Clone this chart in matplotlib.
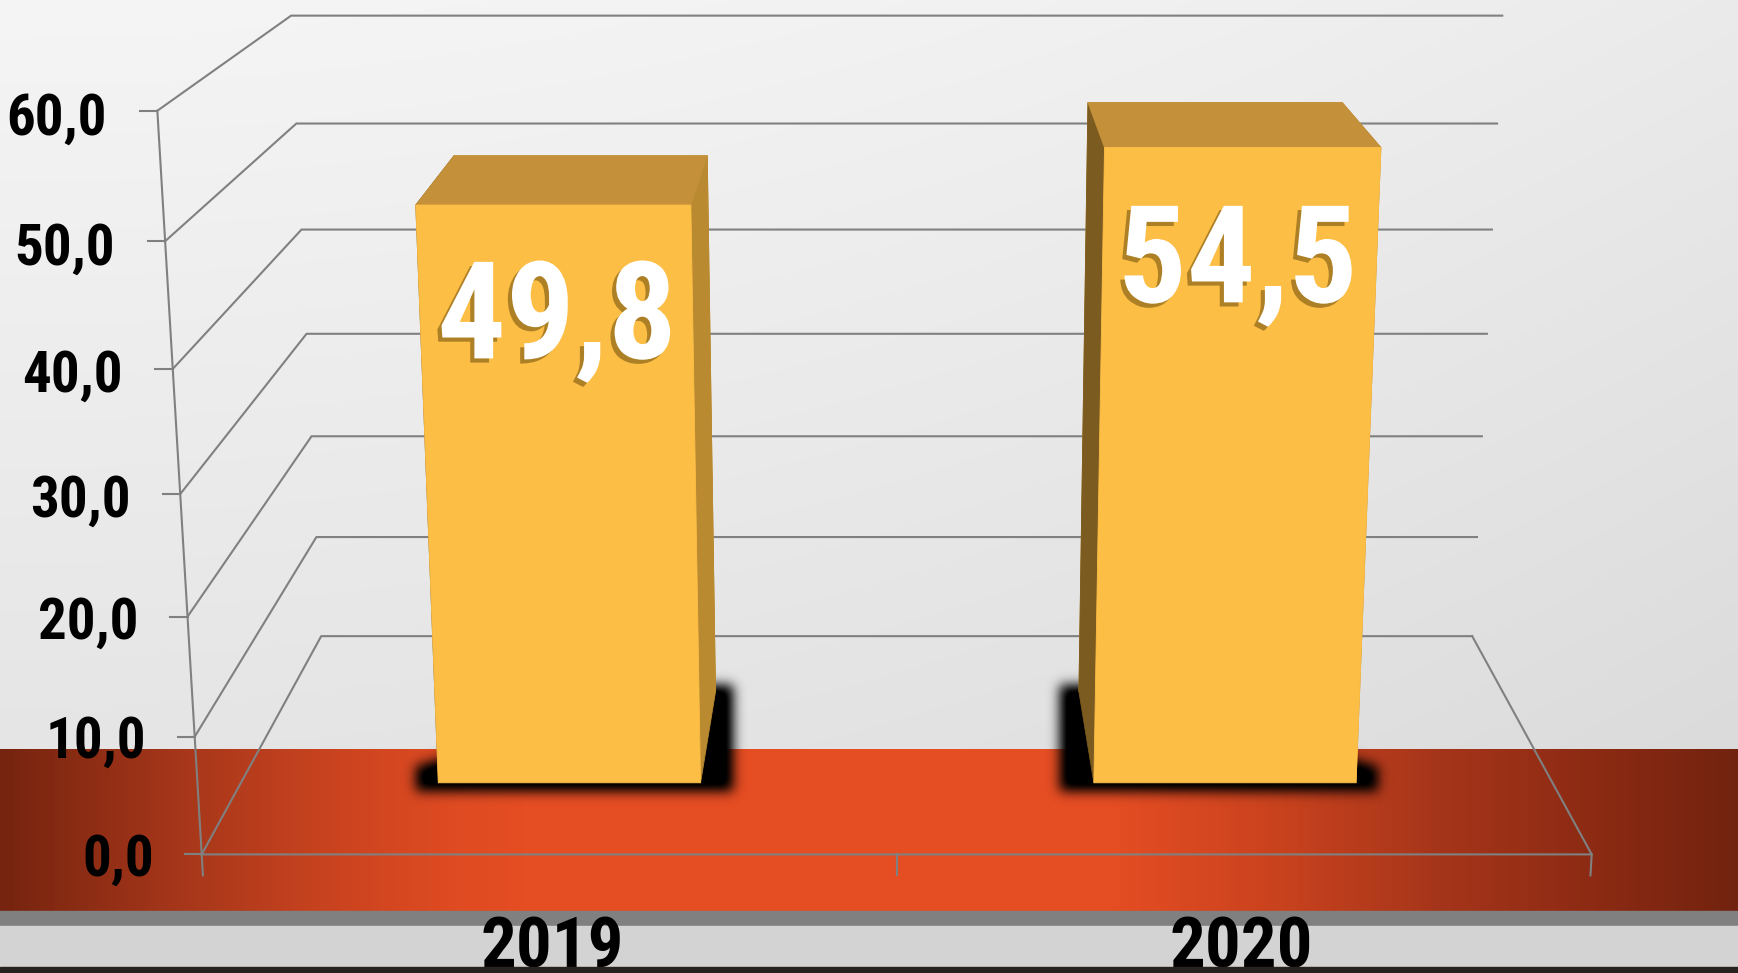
import os
import numpy as np
import matplotlib
matplotlib.use('Agg')
import matplotlib.pyplot as plt
from matplotlib import font_manager as fm
from matplotlib.font_manager import FontProperties
from matplotlib.textpath import TextPath
from matplotlib.colors import LinearSegmentedColormap
from matplotlib.patches import Rectangle
from matplotlib.path import Path
import matplotlib.patheffects as pe
from mpl_toolkits.mplot3d.art3d import Poly3DCollection

W, H = 1738, 973

years = ['2019', '2020']
values = [49.8, 54.5]
value_labels = ['49,8', '54,5']
ticks = [0, 10, 20, 30, 40, 50, 60]
tick_labels = ['0,0', '10,0', '20,0', '30,0', '40,0', '50,0', '60,0']

GRID = '#808080'
bar_w, bar_d = 0.4, 0.42


# heavy narrow face, the closest thing to Impact that is installed
def pick_font():
    files = [f.fname for f in fm.fontManager.ttflist]
    for key in ['NotoSans-ExtraCondensedBlack', 'NotoSans-ExtraCondensedExtraBold',
                'NotoSans-CondensedBlack', 'NotoSans-ExtraCondensedBold',
                'NotoSans-CondensedExtraBold', 'LiberationSansNarrow-Bold.',
                'RobotoCondensed-Bold', 'NotoSans-CondensedBold',
                'DejaVuSansCondensed-Bold.', 'LiberationSans-Bold.']:
        for f in files:
            if os.path.basename(f).startswith(key):
                return FontProperties(fname=f)
    return FontProperties(family='DejaVu Sans', weight='bold')


FP = pick_font()


def font(text, target_w, target_h):
    p = FP.copy()
    p.set_size(100)
    w = TextPath((0, 0), text, prop=p).get_extents().width * 100 / 72
    h = TextPath((0, 0), '0', prop=p).get_extents().height * 100 / 72
    p.set_size(100 * (target_w / w) ** 0.65 * (target_h / h) ** 0.35)
    return p


fp_value = font('49,8', 224, 103)
fp_tick = font('60,0', 96, 41)
fp_year = font('2019', 129, 58)

fig = plt.figure(figsize=(W / 100, H / 100), dpi=100)

# background layer in pixel coords (y down)
bg = fig.add_axes([0, 0, 1, 1], zorder=-1)
bg.set_xlim(0, W)
bg.set_ylim(H, 0)
bg.axis('off')

yy, xx = np.mgrid[0:H, 0:W]
shade = 0.96 - 0.08 * (yy / H) - 0.04 * (xx / W) ** 2
bg.imshow(np.dstack([shade] * 3), extent=(0, W, H, 0), aspect='auto', zorder=0)

band = LinearSegmentedColormap.from_list('band', [
    (0.0, '#76240f'), (0.10, '#a5361a'), (0.18, '#c6421f'), (0.26, '#df4b22'),
    (0.30, '#e54d23'), (0.64, '#e54d23'), (0.74, '#c8421e'), (0.83, '#a5351a'),
    (0.92, '#8c2a13'), (1.0, '#72230f')])
bg.imshow(np.linspace(0, 1, 512)[None, :], cmap=band, extent=(0, W, 911, 749),
          aspect='auto', zorder=1)
bg.add_patch(Rectangle((0, 911), W, 15, color='#808080', zorder=2))
bg.add_patch(Rectangle((0, 926), W, 47, color='#d3d3d3', zorder=2))
fig.add_artist(Rectangle((0, 0), 1, 6 / H, transform=fig.transFigure,
                         color='#29231f', zorder=10))

# 3d chart
ax = fig.add_axes([0, 0, 1, 1], projection='3d', computed_zorder=False)
ax.set_facecolor('none')
ax.set_axis_off()

for z in ticks:
    ax.plot([0, 0, 2], [0, 1, 1], [z, z, z], color=GRID, lw=1.5, zorder=2)
    ax.plot([-0.024, 0], [0, 0], [z, z], color=GRID, lw=1.5, zorder=2)
ax.plot([0, 0], [0, 0], [0, 60], color=GRID, lw=1.5, zorder=2)
ax.plot([0, 2, 2], [0, 0, 1], [0, 0, 0], color=GRID, lw=1.5, zorder=2)
for x in [0, 1, 2]:
    ax.plot([x, x], [0, 0], [0, -1.8], color=GRID, lw=1.5, zorder=2)

colors = {'back': '#b98a30', 'left': '#7b5b1f', 'right': '#b98a30',
          'top': '#c4903a', 'front': '#fdbe46'}
for i, v in enumerate(values):
    xa, xb = i + 0.5 - bar_w / 2, i + 0.5 + bar_w / 2
    ya, yb = 0.5 - bar_d / 2, 0.5 + bar_d / 2
    faces = [
        ('back', [(xa, yb, 0), (xb, yb, 0), (xb, yb, v), (xa, yb, v)]),
        ('left', [(xa, ya, 0), (xa, yb, 0), (xa, yb, v), (xa, ya, v)]),
        ('right', [(xb, ya, 0), (xb, yb, 0), (xb, yb, v), (xb, ya, v)]),
        ('top', [(xa, ya, v), (xb, ya, v), (xb, yb, v), (xa, yb, v)]),
        ('front', [(xa, ya, 0), (xb, ya, 0), (xb, ya, v), (xa, ya, v)]),
    ]
    for k, (name, f) in enumerate(faces):
        col = Poly3DCollection([f], facecolor=colors[name], edgecolor=colors[name],
                               linewidth=0.6, zorder=5 + k)
        ax.add_collection3d(col)
    ax.text(i + 0.5, ya, v - 12.8, value_labels[i], zdir=None, ha='center',
            va='baseline', fontproperties=fp_value, color='white', zorder=20,
            path_effects=[pe.withSimplePatchShadow(offset=(-3, -3),
                                                   shadow_rgbFace='#a57a22',
                                                   alpha=0.9)])
    ax.text(i + 0.5, 0, -9.8, years[i], zdir=None, ha='center', va='baseline',
            fontproperties=fp_year, color='black', zorder=20)

for z, lab in zip(ticks, tick_labels):
    ax.text(-0.071, 0, z - 1.8, lab, zdir=None, ha='right', va='baseline',
            fontproperties=fp_tick, color='black', zorder=20)

ax.set_xlim(0, 2)
ax.set_ylim(0, 1)
ax.set_zlim(0, 60)
ax.set_box_aspect((0.441, 0.2146, 0.238))
dist = getattr(ax, '_dist', 10)
ax.set_proj_type('persp', focal_length=1.97 * np.linalg.norm(ax._box_aspect) / dist)
ax.view_init(elev=14.6, azim=-90)

M = ax.get_proj()


def project(x, y, z):
    x = np.ravel(x).astype(float)
    p = M @ np.vstack([x, np.ravel(y), np.ravel(z), np.ones_like(x)])
    return p[0] / p[3], p[1] / p[3]


# place the 3d axes so the front floor edge lands where it is in the picture
xs, ys = project([0, 2], [0, 0], [0, 0])
front_l, front_r = (201.7, 854.4), (1591.7, 854.4)
s = (front_r[0] - front_l[0]) / (xs[1] - xs[0])
x0, x1 = ax.viewLim.intervalx
y0, y1 = ax.viewLim.intervaly
left = front_l[0] - s * (xs[0] - x0)
bottom = (H - front_l[1]) - s * (ys[0] - y0)
ax.set_position([left / W, bottom / H, s * (x1 - x0) / W, s * (y1 - y0) / H])


def to_px(x, y, z):
    a, b = project(x, y, z)
    return left + s * (a - x0), H - (bottom + s * (b - y0))


# soft black shadows round the bar feet
kernel = np.exp(-0.5 * (np.arange(-18, 19) / 6.0) ** 2)
kernel /= kernel.sum()
for i, v in enumerate(values):
    xa, xb = i + 0.5 - bar_w / 2, i + 0.5 + bar_w / 2
    ya, yb = 0.5 - bar_d / 2, 0.5 + bar_d / 2
    px, py = to_px([xa, xb, xa, xb], [ya, ya, yb, yb], [0, 0, 0, 0])
    if px[3] > px[1]:
        outer, in_front, in_back, in_y, sg = px[0], px[1], px[3], py[3], 1
    else:
        outer, in_front, in_back, in_y, sg = px[1], px[0], px[2], py[2], -1
    base = py[0]
    poly = np.array([(outer - sg * 22, base - 16), (outer - sg * 22, base + 9),
                     (in_back + sg * 18, base + 9), (in_back + sg * 18, in_y - 6),
                     (in_front, in_y - 6)])
    bx0, bx1 = int(poly[:, 0].min()) - 25, int(poly[:, 0].max()) + 25
    by0, by1 = int(poly[:, 1].min()) - 25, int(poly[:, 1].max()) + 25
    gy, gx = np.mgrid[by0:by1, bx0:bx1]
    mask = Path(poly).contains_points(np.c_[gx.ravel() + 0.5, gy.ravel() + 0.5])
    mask = mask.reshape(gx.shape).astype(float)
    mask = np.apply_along_axis(lambda r: np.convolve(r, kernel, 'same'), 1, mask)
    mask = np.apply_along_axis(lambda c: np.convolve(c, kernel, 'same'), 0, mask)
    rgba = np.zeros(mask.shape + (4,))
    rgba[..., 3] = np.clip(mask * 1.15, 0, 1)
    bg.imshow(rgba, extent=(bx0, bx1, by1, by0), aspect='auto', zorder=3)

bg.set_xlim(0, W)
bg.set_ylim(H, 0)

fig.savefig('out.png', dpi=100)
